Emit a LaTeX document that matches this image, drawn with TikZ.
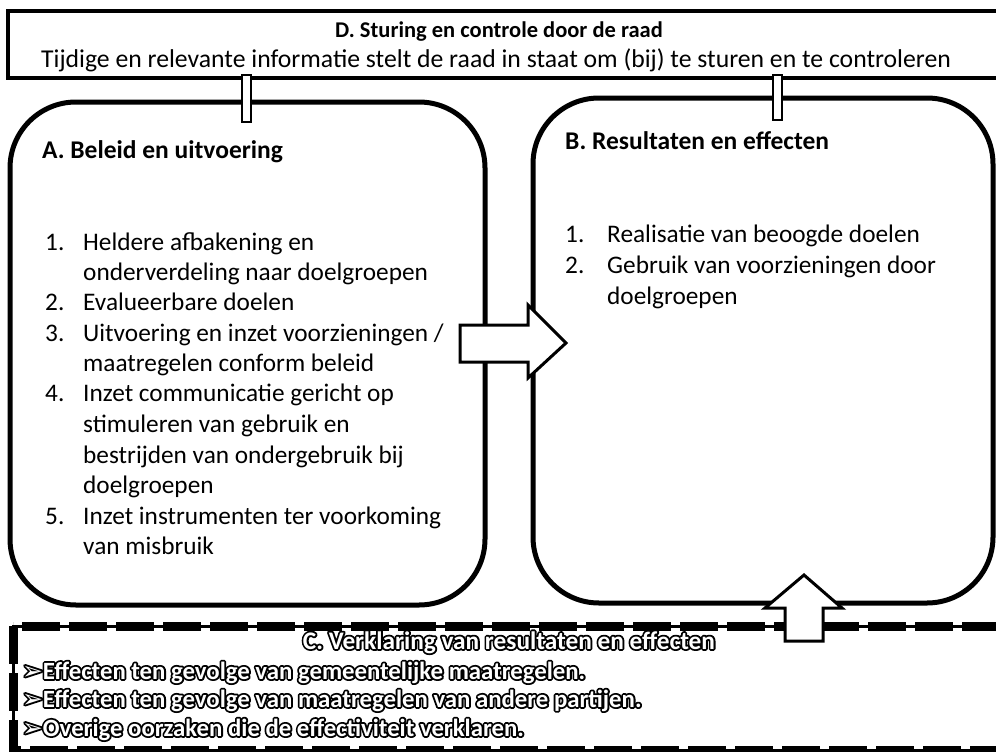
\documentclass[tikz,border=0pt]{standalone}
\usepackage{fontspec}
\setmainfont{Carlito}
\newfontfamily\dejavu{DejaVu Sans}
\tikzset{
  frame/.style={draw=black, line width=3.5pt, fill=white, inner sep=0pt, outer sep=0pt},
  roundbox/.style={draw=black, line width=5pt, rounded corners=66pt, fill=white, inner sep=0pt, outer sep=0pt},
  thinframe/.style={draw=black, line width=3pt, inner sep=0pt, outer sep=0pt},
  thickdash/.style={line width=9pt, dash pattern=on 38pt off 9pt},
  barbox/.style={draw=black, line width=2.5pt, fill=white},
  blockarrow/.style={draw=black, line width=3pt, fill=white, line join=miter},
  txt/.style={anchor=base west, inner sep=0pt, font=\fontsize{25.3}{30.4}\selectfont},
  hd/.style={anchor=base west, inner sep=0pt, font=\bfseries\fontsize{25.5}{30}\selectfont},
  ctxt/.style={anchor=base west, inner sep=0pt, font=\bfseries\fontsize{24.8}{28}\selectfont},
}
\newcommand{\outl}[1]{{\special{pdf:literal direct 2 Tr 3.6 w 1 j 0 G 0 g}\rlap{#1}\special{pdf:literal direct 0 Tr}}{\color{white}#1}}
\begin{document}
\begin{tikzpicture}[x=1pt,y=-1pt]
\useasboundingbox (0,0) rectangle (996,752);
\fill[white] (0,0) rectangle (996,752);
\clip (0,0) rectangle (996,752);
% D box
\node[frame, anchor=north west, minimum width=1004pt, minimum height=67pt] (D) at (8,11) {};
% A and B boxes
\node[roundbox, anchor=north west, minimum width=475pt, minimum height=503pt] (A) at (10,102) {};
\node[roundbox, anchor=north west, minimum width=460pt, minimum height=505pt] (B) at (533,98) {};
% C box
\node[thinframe, anchor=north west, minimum width=1004pt, minimum height=124pt] (C) at (13,626) {};
\draw[thickdash] (C.north west) rectangle (C.south east);
% connector bars
\draw[barbox] (242,75) rectangle (251,122);
\draw[barbox] (773,75) rectangle (782,120);
% block arrows
\draw[blockarrow] (460,325) -- (528,325) -- (528,305) -- (566,343) -- (528,378) -- (528,362) -- (460,362) -- cycle;
\draw[blockarrow] (785,641) -- (785,608) -- (765,608) -- (804,575) -- (842,608) -- (823,608) -- (823,641) -- cycle;
% D texts
\node[anchor=base, inner sep=0pt, font=\bfseries\fontsize{22.5}{28}\selectfont] (dt) at (499,38) {D. Sturing en controle door de raad};
\node[anchor=base, inner sep=0pt, font=\fontsize{25.7}{30}\selectfont] (ds) at (496,67) {Tijdige en relevante informatie stelt de raad in staat om (bij) te sturen en te controleren};
% A texts
\node[hd] (at) at (42,158) {A. Beleid en uitvoering};
\node[txt] (a1n) at (45,250) {1.};
\node[txt] (a1a) at (83,250) {Heldere afbakening en};
\node[txt] (a1b) at (83,280) {onderverdeling naar doelgroepen};
\node[txt] (a2n) at (45,310) {2.};
\node[txt] (a2a) at (83,310) {Evalueerbare doelen};
\node[txt] (a3n) at (45,341) {3.};
\node[txt] (a3a) at (83,341) {Uitvoering en inzet voorzieningen /};
\node[txt] (a3b) at (83,371) {maatregelen conform beleid};
\node[txt] (a4n) at (45,401) {4.};
\node[txt] (a4a) at (83,401) {Inzet communicatie gericht op};
\node[txt] (a4b) at (83,432) {stimuleren van gebruik en};
\node[txt] (a4c) at (83,463) {bestrijden van ondergebruik bij};
\node[txt] (a4d) at (83,493) {doelgroepen};
\node[txt] (a5n) at (45,524) {5.};
\node[txt] (a5a) at (83,524) {Inzet instrumenten ter voorkoming};
\node[txt] (a5b) at (83,554) {van misbruik};
% B texts
\node[hd] (bt) at (565,149) {B. Resultaten en effecten};
\node[txt] (b1n) at (565,242) {1.};
\node[txt] (b1a) at (607,242) {Realisatie van beoogde doelen};
\node[txt] (b2n) at (565,273) {2.};
\node[txt] (b2a) at (607,273) {Gebruik van voorzieningen door};
\node[txt] (b2b) at (607,304) {doelgroepen};
% C texts
\node[anchor=base, inner sep=0pt, font=\bfseries\fontsize{25.3}{28}\selectfont] (ct) at (509,649) {\outl{C. Verklaring van resultaten en effecten}};
\node[ctxt] (c1) at (22,679) {\outl{{\dejavu\mdseries ➢}Effecten ten gevolge van gemeentelijke maatregelen.}};
\node[ctxt] (c2) at (22,707) {\outl{{\dejavu\mdseries ➢}Effecten ten gevolge van maatregelen van andere partijen.}};
\node[ctxt] (c3) at (22,736) {\outl{{\dejavu\mdseries ➢}Overige oorzaken die de effectiviteit verklaren.}};
\end{tikzpicture}
\end{document}
